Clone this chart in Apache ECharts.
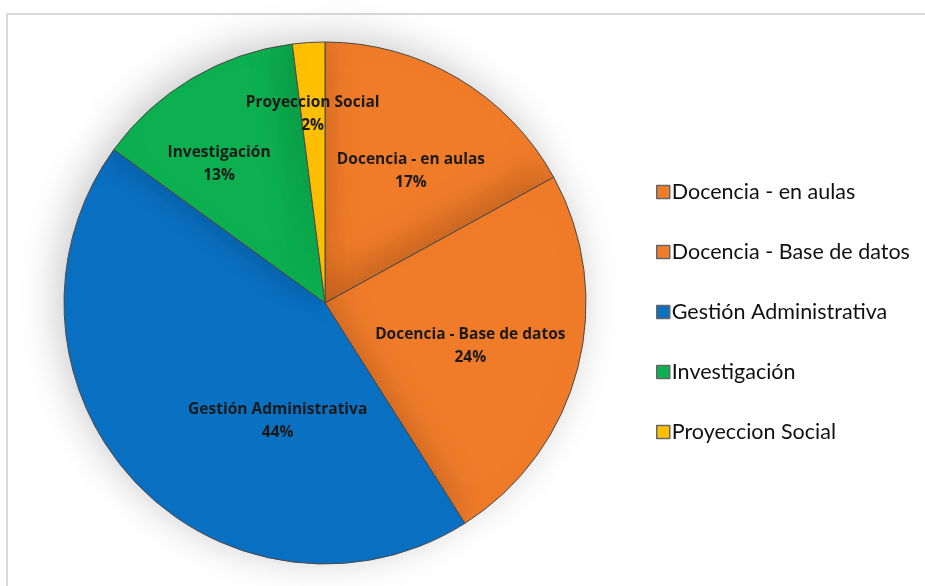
<!DOCTYPE html>
<html>
<head>
<meta charset="utf-8">
<script src="https://cdn.jsdelivr.net/npm/echarts@6/dist/echarts.min.js"></script>
<style>
  html, body { margin: 0; padding: 0; background: #fff; }
  #frame { position: absolute; left: 6px; top: 13px; width: 940px; height: 600px; border: 2px solid #d9d9d9; box-sizing: border-box; }
  #chart { position: absolute; left: 0; top: 0; width: 925px; height: 586px; }
</style>
</head>
<body>
<div id="frame"></div>
<div id="chart"></div>
<script>
// data
let categories = ['Docencia - en aulas', 'Docencia - Base de datos', 'Gestión Administrativa', 'Investigación', 'Proyeccion Social']
let values = [17, 24, 44, 13, 2]
let colors = ['#F07C2A', '#F07C2A', '#0A70C2', '#0DB050', '#FFC000']
// label nudges from default 'inside' spot, to sit where excel put them
let labelShift = [[18, -17], [16, 10], [50, 27], [-38, -24], [-4, -56]]

let chart = echarts.init(document.getElementById('chart'))

chart.setOption({
  animation: false,
  legend: {
    orient: 'vertical',
    left: 651,
    top: 175,
    itemWidth: 13,
    itemHeight: 13,
    itemGap: 36,
    icon: 'rect',
    data: categories,
    itemStyle: { borderColor: '#666', borderWidth: 1.5 },
    textStyle: { fontFamily: 'Lato', fontSize: 21.5, color: '#111', lineHeight: 24, padding: [0, 0, 0, -3] }
  },
  series: [{
    type: 'pie',
    center: [325, 303],
    radius: 261,
    startAngle: 90,
    clockwise: true,
    data: categories.map((name, i) => ({
      name: name,
      value: values[i],
      itemStyle: { color: colors[i] }
    })),
    itemStyle: {
      borderColor: '#4a4a4a',
      borderWidth: 1,
      shadowBlur: 40,
      shadowOffsetX: -6,
      shadowOffsetY: -6,
      shadowColor: 'rgba(0,0,0,0.22)'
    },
    label: {
      show: true,
      position: 'inside',
      formatter: '{b}\n{d}%',
      fontFamily: 'Open Sans',
      fontWeight: 'bold',
      fontSize: 15.5,
      lineHeight: 23,
      color: '#1a1a1a',
      align: 'center'
    },
    labelLayout: function (params) {
      let s = labelShift[params.dataIndex]
      return { dx: s[0], dy: s[1] }
    },
    labelLine: { show: false },
    emphasis: { disabled: true }
  }]
})
</script>
</body>
</html>
